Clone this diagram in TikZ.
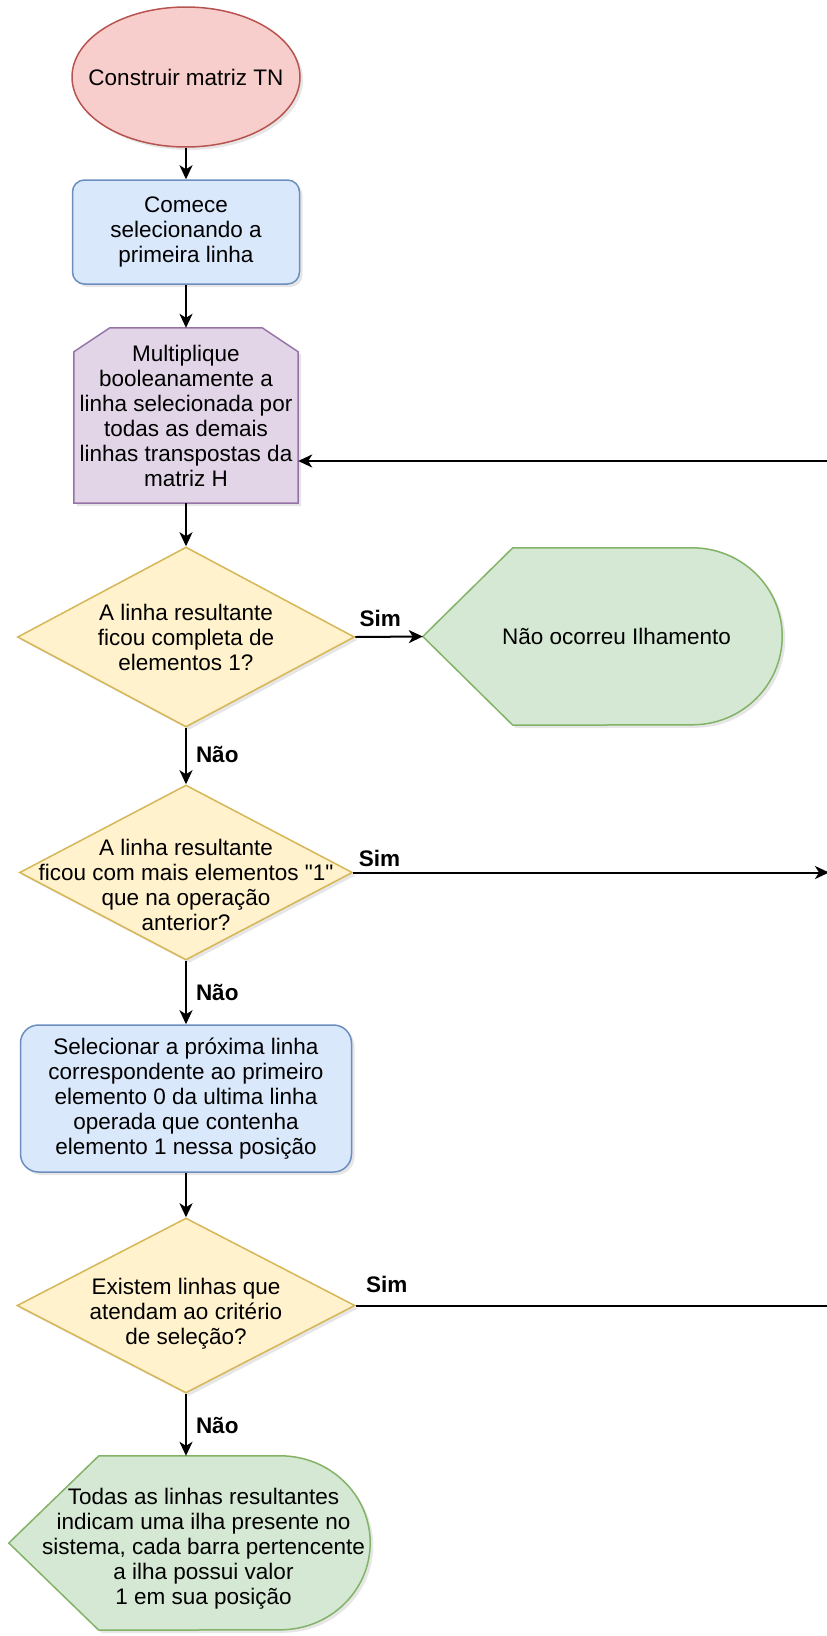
\documentclass[tikz,border=0pt]{standalone}
\usepackage{fontspec}
\setmainfont{Liberation Sans}
\usetikzlibrary{shapes.geometric,arrows.meta,backgrounds,shadows}

\definecolor{redfill}{HTML}{F8CECC}
\definecolor{redline}{HTML}{B85450}
\definecolor{bluefill}{HTML}{DAE8FC}
\definecolor{blueline}{HTML}{6C8EBF}
\definecolor{purplefill}{HTML}{E1D5E7}
\definecolor{purpleline}{HTML}{9673A6}
\definecolor{yellowfill}{HTML}{FFF2CC}
\definecolor{yellowline}{HTML}{D6B656}
\definecolor{greenfill}{HTML}{D5E8D4}
\definecolor{greenline}{HTML}{82B366}

\begin{document}
\begin{tikzpicture}[x=1pt, y=-1pt,
		txt/.style={font=\fontsize{22.5}{25}\selectfont, align=center, inner sep=0pt},
		softshadow/.style={drop shadow={opacity=0.2, shadow xshift=3pt, shadow yshift=-3pt}},
		terminal/.style={ellipse, draw=redline, fill=redfill, line width=1.5pt, softshadow, inner sep=0pt},
		process/.style={txt, rectangle, draw=blueline, fill=bluefill, line width=1.5pt, softshadow},
		decision/.style={diamond, draw=yellowline, fill=yellowfill, line width=1.5pt, softshadow, inner sep=0pt},
		holder/.style={txt, rectangle},
		flow/.style={line width=2pt, -{Stealth[length=14pt, width=13pt, inset=4pt]}},
		link/.style={line width=2pt},
		answer/.style={font=\fontsize{22.5}{25}\selectfont\bfseries, inner sep=3pt}]
		
		\useasboundingbox (0,0) rectangle (827,1636);
		
		\node[terminal, minimum width=228pt, minimum height=140pt, label={[txt]center:{Construir matriz TN}}] (start) at (186,77) {};
		\node[process, rounded corners=12pt, minimum width=227pt, minimum height=104pt] (first) at (186,232) {Comece\\selecionando a\\primeira linha};
		\node[holder, minimum width=224pt, minimum height=175pt] (mult) at (186,415.5) {Multiplique\\booleanamente a\\linha selecionada por\\todas as demais\\linhas transpostas da\\matriz H};
		\node[decision, minimum width=337pt, minimum height=180pt, label={[txt]center:{A linha resultante\\ficou completa de\\elementos 1?}}] (full) at (186,637) {};
		\node[holder, minimum width=359pt, minimum height=177pt, label={[txt, xshift=14pt]center:{Não ocorreu Ilhamento}}] (none) at (602.5,636.5) {};
		\node[decision, minimum width=333pt, minimum height=175pt, label={[txt, yshift=-12pt]center:{A linha resultante\\ficou com mais elementos \textquotedbl 1\textquotedbl\\que na operação\\anterior?}}] (more) at (186,872.5) {};
		\node[process, rounded corners=18pt, minimum width=331pt, minimum height=147pt] (next) at (186,1098.5) {Selecionar a próxima linha\\correspondente ao primeiro\\elemento 0 da ultima linha\\operada que contenha\\elemento 1 nessa posição};
		\node[decision, minimum width=338pt, minimum height=175pt, label={[txt, yshift=-8pt]center:{Existem linhas que\\atendam ao critério\\de seleção?}}] (check) at (186,1305.5) {};
		\node[holder, minimum width=361pt, minimum height=174pt, label={[txt, xshift=14pt, yshift=-6pt]center:{Todas as linhas resultantes\\ indicam uma ilha presente no\\sistema, cada barra pertencente\\a ilha possui valor\\1 em sua posição}}] (island) at (189.5,1543) {};
		
		\coordinate (back1) at (832,461);
		\coordinate (back2) at (829,872.5);
		\coordinate (back3) at (832,1305.5);
		
		\begin{scope}[on background layer]
			\filldraw[draw=purpleline, fill=purplefill, line width=1.5pt, softshadow]
			(mult.south west) -- ([yshift=-24pt]mult.north west) -- ([xshift=36pt]mult.north west)
			-- ([xshift=-36pt]mult.north east) -- ([yshift=-24pt]mult.north east) -- (mult.south east) -- cycle;
			\foreach \n/\r in {none/88.5, island/87}
			\filldraw[draw=greenline, fill=greenfill, line width=1.5pt, softshadow]
			(\n.west) -- ([xshift=90pt]\n.north west) -- ([xshift=-90pt]\n.north east)
			arc[start angle=90, end angle=-90, x radius=90pt, y radius=\r pt]
			-- ([xshift=90pt]\n.south west) -- cycle;
		\end{scope}
		
		\draw[flow] (start) -- (first);
		\draw[flow] (first) -- (mult);
		\draw[flow] (mult) -- (full);
		\draw[flow] (full.east) -- node[answer, above=6pt, pos=0.37] {Sim} (none.west);
		\draw[flow] (full) -- node[answer, right=6pt, pos=0.48] {Não} (more);
		\draw[flow] (more.east) -- node[answer, above=2pt, pos=0.055] {Sim} (back2);
		\draw[flow] (more) -- node[answer, right=6pt, pos=0.5] {Não} (next);
		\draw[flow] (next) -- (check);
		\draw[link] (check.east) -- node[answer, above=9pt, pos=0.065] {Sim} (back3);
		\draw[flow] (check.south) -- node[answer, right=6pt, pos=0.51] {Não} (check.south |- island.north);
		\draw[flow] (back1) -- (back1 -| mult.east);
	\end{tikzpicture}
\end{document}
